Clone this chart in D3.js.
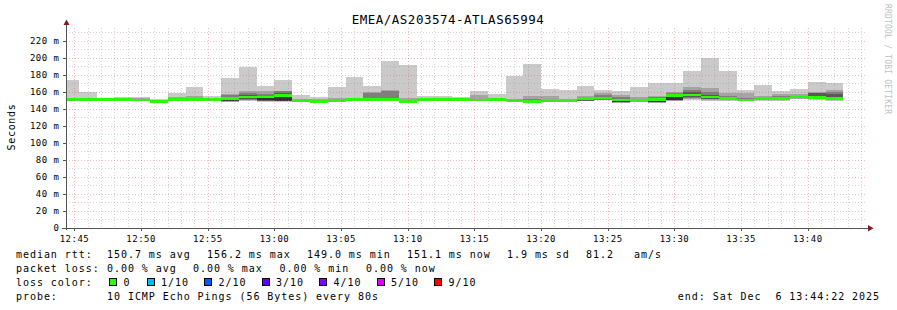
<!DOCTYPE html>
<html>
<head>
<meta charset="utf-8">
<script src="https://cdn.jsdelivr.net/npm/d3@7"></script>
<style>
  body { margin: 0; background: #fff; }
  text { font-family: "DejaVu Sans Mono", monospace; fill: #000; }
</style>
</head>
<body>
<svg id="chart" width="897" height="310"></svg>
<script>
// smokeping graph: 10 pings every 80s, one hour window
const title = "EMEA/AS203574-ATLAS65994";
const startTime = new Date("2025-12-06T12:44:22Z");
const endTime = new Date("2025-12-06T13:44:22Z");
const firstStepStart = new Date("2025-12-06T12:44:00Z");
const stepSeconds = 80;

// sorted ping times (ms) for each step, median is the 6th one
const pings = [
  [149.6, 149.9, 150.1, 150.3, 150.5, 150.6, 150.9, 151.3, 152.5, 174.0],
  [150.1, 150.3, 150.5, 150.7, 150.9, 151.0, 151.3, 151.7, 152.6, 160.0],
  [149.9, 150.1, 150.3, 150.5, 150.6, 150.7, 150.9, 151.0, 151.1, 151.3],
  [150.1, 150.3, 150.5, 150.7, 150.9, 151.0, 151.3, 151.7, 152.6, 154.0],
  [149.6, 149.9, 150.1, 150.3, 150.4, 150.5, 150.9, 151.4, 152.2, 154.0],
  [148.1, 148.3, 148.5, 148.7, 148.9, 149.0, 149.4, 149.9, 150.7, 151.8],
  [150.0, 150.3, 150.5, 150.7, 150.9, 151.0, 151.5, 152.3, 154.0, 158.8],
  [150.0, 150.3, 150.5, 150.7, 150.9, 151.0, 151.6, 152.5, 155.3, 165.9],
  [149.8, 150.0, 150.2, 150.4, 150.5, 150.6, 150.9, 151.3, 152.3, 155.3],
  [147.8, 148.3, 148.8, 149.2, 149.5, 151.8, 154.5, 156.5, 157.5, 176.5],
  [149.5, 150.2, 150.8, 151.5, 152.3, 153.9, 156.0, 158.4, 161.0, 189.5],
  [148.5, 149.0, 149.4, 149.7, 150.0, 153.9, 155.6, 158.0, 160.4, 167.0],
  [148.5, 149.0, 149.4, 149.6, 149.8, 156.0, 159.0, 160.5, 161.5, 174.0],
  [148.8, 149.0, 149.2, 149.4, 149.5, 149.6, 150.0, 150.5, 152.0, 156.8],
  [147.8, 148.0, 148.2, 148.4, 148.6, 148.8, 149.1, 149.7, 151.5, 154.0],
  [149.3, 149.5, 149.7, 149.9, 150.1, 150.2, 150.6, 151.2, 153.0, 165.9],
  [149.8, 150.1, 150.3, 150.5, 150.7, 150.8, 151.2, 151.6, 152.2, 178.0],
  [149.8, 150.1, 150.3, 150.5, 150.7, 150.8, 152.0, 158.4, 159.5, 167.0],
  [149.8, 150.1, 150.3, 150.5, 150.7, 150.8, 152.5, 161.0, 161.8, 196.5],
  [148.0, 148.3, 148.5, 148.7, 148.9, 149.0, 149.5, 150.5, 153.3, 191.0],
  [149.8, 150.0, 150.2, 150.4, 150.5, 150.6, 151.0, 151.5, 153.3, 155.3],
  [149.8, 150.0, 150.2, 150.4, 150.5, 150.6, 150.9, 151.2, 152.0, 155.3],
  [149.8, 150.0, 150.2, 150.4, 150.5, 150.6, 150.9, 151.2, 152.0, 154.0],
  [149.6, 149.9, 150.1, 150.3, 150.4, 150.5, 151.0, 152.0, 156.8, 160.4],
  [149.8, 150.0, 150.2, 150.4, 150.5, 150.6, 151.0, 151.6, 152.9, 158.0],
  [148.9, 149.2, 149.4, 149.6, 149.7, 149.8, 150.2, 150.8, 152.0, 179.0],
  [148.0, 148.3, 148.5, 148.7, 148.9, 149.0, 149.6, 151.0, 155.0, 193.0],
  [148.6, 148.9, 149.1, 149.3, 149.4, 149.5, 150.0, 151.2, 155.6, 163.5],
  [148.6, 148.9, 149.1, 149.3, 149.4, 149.5, 149.9, 150.5, 151.5, 162.4],
  [149.0, 149.3, 149.6, 149.8, 150.0, 152.0, 153.0, 154.2, 155.5, 167.4],
  [150.0, 150.4, 150.8, 151.2, 151.5, 152.6, 154.0, 156.0, 158.4, 162.4],
  [147.0, 147.4, 147.7, 147.9, 148.0, 150.3, 152.0, 154.0, 156.8, 161.0],
  [149.0, 149.3, 149.5, 149.7, 149.9, 150.0, 150.5, 151.5, 153.5, 166.0],
  [147.0, 147.4, 147.7, 147.9, 148.0, 150.6, 152.0, 153.5, 155.5, 169.8],
  [149.0, 149.5, 150.0, 150.3, 150.6, 155.3, 157.0, 158.5, 159.6, 169.8],
  [150.5, 151.5, 152.5, 153.5, 155.5, 156.2, 159.5, 162.5, 166.0, 184.7],
  [149.5, 150.3, 151.0, 151.8, 152.5, 153.8, 156.5, 160.0, 164.3, 200.0],
  [149.5, 149.9, 150.3, 150.7, 151.0, 151.8, 153.0, 155.5, 158.4, 184.7],
  [149.3, 149.6, 149.8, 150.0, 150.2, 150.3, 151.0, 153.0, 158.4, 162.4],
  [149.8, 150.2, 150.6, 151.0, 151.4, 151.8, 152.5, 153.8, 155.3, 168.6],
  [149.8, 150.2, 150.6, 151.0, 151.4, 151.8, 153.0, 155.5, 158.0, 161.5],
  [151.0, 151.6, 152.2, 152.8, 153.3, 153.8, 154.5, 155.5, 157.0, 163.5],
  [150.5, 151.0, 151.6, 152.0, 152.8, 153.4, 158.8, 159.0, 159.3, 171.0],
  [149.8, 150.2, 150.6, 151.0, 151.3, 151.8, 157.6, 160.0, 162.4, 169.8]
];
// lost pings per step (out of 10)
const lossCount = [0,0,0,0,0,0,0,0,0,0,0,0,0,0,0,0,0,0,0,0,0,0,
                   0,0,0,0,0,0,0,0,0,0,0,0,0,0,0,0,0,0,0,0,0,0];

const lossLevels = [0, 1, 2, 3, 4, 5, 9];
const lossLabels = ["0", "1/10", "2/10", "3/10", "4/10", "5/10", "9/10"];
const lossColors = ["#26ff00", "#00b8ff", "#0059ff", "#5e00ff", "#7e00ff", "#dd00ff", "#ff0000"];
const smokeGrays = ["#cacaca", "#a4a4a4", "#7e7e7e", "#585858", "#323232"];
const yTicks = [0, 20, 40, 60, 80, 100, 120, 140, 160, 180, 200, 220];

const rttStats = ["150.7 ms avg", "156.2 ms max", "149.0 ms min", "151.1 ms now", "1.9 ms sd", "81.2", "am/s"];
const lossStats = ["0.00 % avg", "0.00 % max", "0.00 % min", "0.00 % now"];
const probeText = "10 ICMP Echo Pings (56 Bytes) every 80s";
const endText = "end: Sat Dec  6 13:44:22 2025";

const plotL = 66, plotR = 866, plotT = 28, plotB = 228;

const svg = d3.select("#chart");

const x = d3.scaleUtc().domain([startTime, endTime]).range([plotL, plotR]);
const y = d3.scaleLinear().domain([0, 235]).range([plotB, plotT]);

svg.append("defs").append("clipPath").attr("id", "plot")
  .append("rect").attr("x", plotL).attr("y", plotT)
  .attr("width", plotR - plotL).attr("height", plotB - plotT);

const steps = pings.map((p, i) => {
  const t0 = new Date(firstStepStart.getTime() + i * stepSeconds * 1000);
  const t1 = new Date(t0.getTime() + stepSeconds * 1000);
  return { t0, t1, p, median: p[5], loss: lossCount[i] };
});

const data = svg.append("g").attr("clip-path", "url(#plot)")
  .attr("shape-rendering", "crispEdges");

// smoke: band k goes from ping k+1 to ping 10-k, darker towards the middle
smokeGrays.forEach((col, k) => {
  data.append("g").selectAll("rect")
    .data(steps)
    .join("rect")
    .attr("x", d => x(d.t0))
    .attr("width", d => x(d.t1) - x(d.t0))
    .attr("y", d => y(d.p[9 - k]))
    .attr("height", d => y(d.p[k]) - y(d.p[9 - k]))
    .attr("fill", col);
});

// median, coloured by loss
const lossColor = n => {
  let c = lossColors[0];
  lossLevels.forEach((l, i) => { if (n >= l) c = lossColors[i]; });
  return c;
};
data.append("g").selectAll("rect")
  .data(steps)
  .join("rect")
  .attr("x", d => x(d.t0))
  .attr("width", d => x(d.t1) - x(d.t0))
  .attr("y", d => y(d.median + 1.6))
  .attr("height", d => y(d.median - 1.6) - y(d.median + 1.6))
  .attr("fill", d => lossColor(d.loss));

// grid
const grid = svg.append("g").attr("shape-rendering", "crispEdges");
const minorTimes = x.ticks(d3.utcMinute.every(1)).filter(t => t.getUTCMinutes() % 5 !== 0);
const majorTimes = x.ticks(d3.utcMinute.every(5));
const minorY = d3.range(10, 235, 20);
const gridCol = "rgba(143,143,143,0.38)", mgridCol = "rgba(222,79,79,0.38)";

grid.selectAll(".vmin").data(minorTimes).join("line")
  .attr("x1", d => Math.round(x(d)) + 0.5).attr("x2", d => Math.round(x(d)) + 0.5)
  .attr("y1", plotT).attr("y2", plotB)
  .attr("stroke", gridCol).attr("stroke-dasharray", "1,2");
grid.selectAll(".hmin").data(minorY).join("line")
  .attr("x1", plotL).attr("x2", plotR)
  .attr("y1", d => Math.round(y(d)) + 0.5).attr("y2", d => Math.round(y(d)) + 0.5)
  .attr("stroke", gridCol).attr("stroke-dasharray", "1,2");
grid.selectAll(".vmaj").data(majorTimes).join("line")
  .attr("x1", d => Math.round(x(d)) + 0.5).attr("x2", d => Math.round(x(d)) + 0.5)
  .attr("y1", plotT).attr("y2", plotB)
  .attr("stroke", mgridCol).attr("stroke-dasharray", "1,2");
grid.selectAll(".hmaj").data(yTicks.slice(1)).join("line")
  .attr("x1", plotL).attr("x2", plotR)
  .attr("y1", d => Math.round(y(d)) + 0.5).attr("y2", d => Math.round(y(d)) + 0.5)
  .attr("stroke", mgridCol).attr("stroke-dasharray", "1,2");

// axes
const axis = svg.append("g").attr("shape-rendering", "crispEdges").attr("stroke", "#555");
axis.append("line").attr("x1", plotL + 0.5).attr("x2", plotL + 0.5).attr("y1", 22).attr("y2", plotB + 2);
axis.append("line").attr("x1", plotL - 4).attr("x2", 869).attr("y1", plotB + 0.5).attr("y2", plotB + 0.5);
axis.selectAll(".yt").data(yTicks).join("line")
  .attr("x1", plotL - 3).attr("x2", plotL)
  .attr("y1", d => Math.round(y(d)) + 0.5).attr("y2", d => Math.round(y(d)) + 0.5);
axis.selectAll(".xt").data(majorTimes).join("line")
  .attr("x1", d => Math.round(x(d)) + 0.5).attr("x2", d => Math.round(x(d)) + 0.5)
  .attr("y1", plotB).attr("y2", plotB + 3);

svg.append("path").attr("d", "M63.5,25 L69.5,25 L66.5,19.5 Z").attr("fill", "#801f1f");
svg.append("path").attr("d", "M868,225 L868,231.5 L873.5,228.3 Z").attr("fill", "#801f1f");

// tick labels
svg.append("g").selectAll("text").data(yTicks).join("text")
  .attr("x", 59.5).attr("y", d => y(d) + 3.3)
  .attr("text-anchor", "end")
  .style("font-size", "9px").style("letter-spacing", "0.5px")
  .text(d => d === 0 ? "0" : d + " m");

const fmt = d3.utcFormat("%H:%M");
svg.append("g").selectAll("text").data(majorTimes).join("text")
  .attr("x", d => x(d)).attr("y", 241.5)
  .attr("text-anchor", "middle")
  .style("font-size", "9px").style("letter-spacing", "0.5px")
  .text(d => fmt(d));

// title, axis label, watermark
svg.append("text").attr("x", 448).attr("y", 24).attr("text-anchor", "middle")
  .style("font-size", "12.5px").style("letter-spacing", "0.5px").text(title);
svg.append("text").attr("transform", "translate(15,127) rotate(-90)")
  .attr("text-anchor", "middle")
  .style("font-size", "10px").style("letter-spacing", "0.7px").text("Seconds");
svg.append("text").attr("transform", "translate(885,4) rotate(90)")
  .style("font-size", "8px").style("letter-spacing", "0.2px").style("fill", "#c0c0c0")
  .text("RRDTOOL / TOBI OETIKER");

// legend
const leg = svg.append("g").style("font-size", "10px").style("letter-spacing", "0.95px");
const rowY = [257.5, 271.5, 285.5, 299.5];
leg.append("text").attr("x", 16).attr("y", rowY[0]).text("median rtt:");
const rttX = [107, 207, 307, 407, 507, 586, 634];
rttStats.forEach((s, i) => leg.append("text").attr("x", rttX[i]).attr("y", rowY[0]).text(s));

leg.append("text").attr("x", 16).attr("y", rowY[1]).text("packet loss:");
const lossX = [107, 193, 279.5, 366];
lossStats.forEach((s, i) => leg.append("text").attr("x", lossX[i]).attr("y", rowY[1]).text(s));

leg.append("text").attr("x", 16).attr("y", rowY[2]).text("loss color:");
const boxX = [109, 146.5, 204, 261.5, 319, 376.5, 434];
lossLabels.forEach((s, i) => {
  leg.append("rect").attr("x", boxX[i] + 0.5).attr("y", 278.5).attr("width", 7).attr("height", 7)
    .attr("fill", lossColors[i]).attr("stroke", "#000").attr("shape-rendering", "crispEdges");
  leg.append("text").attr("x", boxX[i] + 14.5).attr("y", rowY[2]).text(s);
});

leg.append("text").attr("x", 16).attr("y", rowY[3]).text("probe:");
leg.append("text").attr("x", 107).attr("y", rowY[3]).text(probeText);
leg.append("text").attr("x", 880).attr("y", rowY[3]).attr("text-anchor", "end")
  .style("white-space", "pre").text(endText);
</script>
</body>
</html>
